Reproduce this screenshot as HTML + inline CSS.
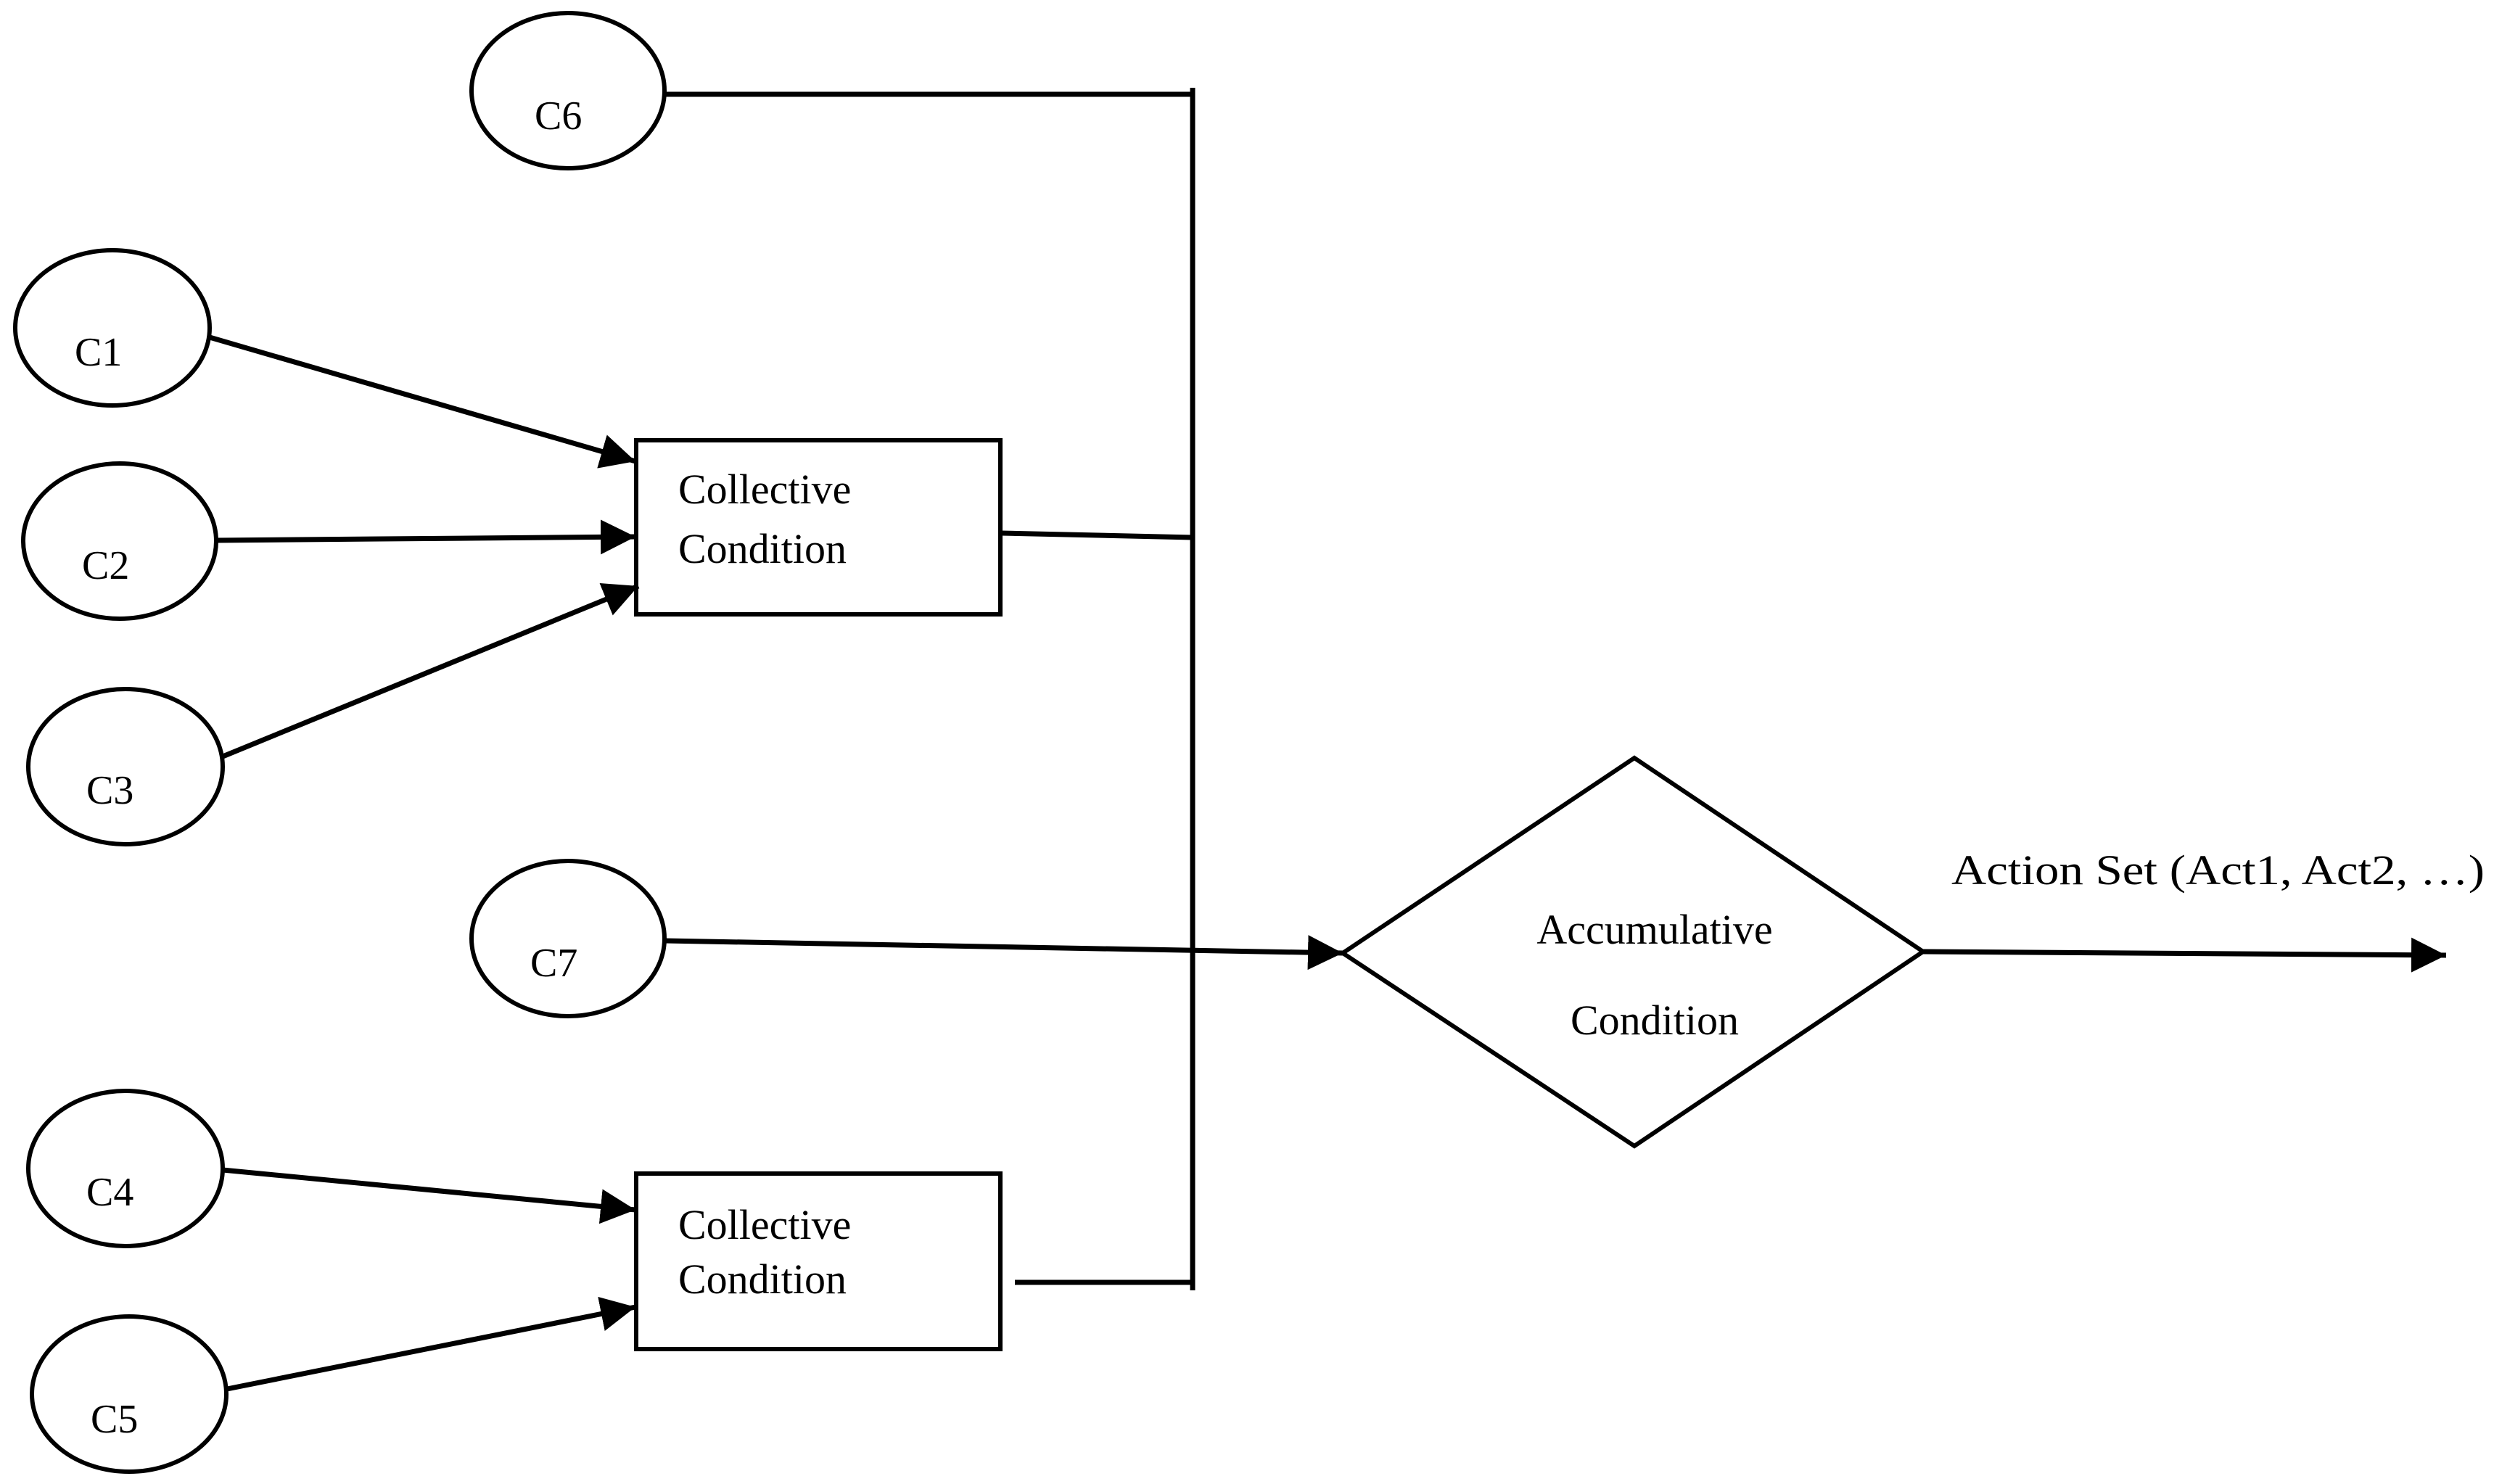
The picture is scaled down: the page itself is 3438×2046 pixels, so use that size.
<!DOCTYPE html>
<html><head><meta charset="utf-8"><style>
html,body{margin:0;padding:0;background:#fff}
svg{display:block}
text{font-family:"Liberation Serif",serif;fill:#000}
</style></head><body>
<svg width="3438" height="2046" viewBox="0 0 3438 2046" xmlns="http://www.w3.org/2000/svg">
<defs>
<marker id="ah" markerUnits="userSpaceOnUse" markerWidth="50" markerHeight="50" refX="48" refY="24" orient="auto">
<polygon points="0,0 48,24 0,48" fill="#000"/>
</marker>
</defs>
<g fill="none" stroke="#000" stroke-width="6">
<ellipse cx="783" cy="125" rx="133" ry="107"/>
<ellipse cx="155" cy="452" rx="134" ry="107"/>
<ellipse cx="165" cy="746" rx="133" ry="107"/>
<ellipse cx="173" cy="1057" rx="134" ry="107"/>
<ellipse cx="783" cy="1294" rx="133" ry="107"/>
<ellipse cx="173" cy="1611" rx="134" ry="107"/>
<ellipse cx="178" cy="1922" rx="134" ry="107"/>
<rect x="877" y="607" width="502" height="240"/>
<rect x="877" y="1618" width="502" height="242"/>
<polygon points="1851,1314 2253,1045 2651,1312 2253,1580"/>
</g>
<g fill="none" stroke="#000" stroke-width="7">
<line x1="1644" y1="121" x2="1644" y2="1779"/>
<line x1="917" y1="130" x2="1644" y2="130"/>
<line x1="1380" y1="735" x2="1644" y2="741"/>
<line x1="1399" y1="1768" x2="1644" y2="1768"/>
<line x1="289" y1="465" x2="876" y2="636" marker-end="url(#ah)"/>
<line x1="298" y1="745" x2="876" y2="740" marker-end="url(#ah)"/>
<line x1="307" y1="1043" x2="880" y2="808" marker-end="url(#ah)"/>
<line x1="307" y1="1613" x2="876" y2="1668" marker-end="url(#ah)"/>
<line x1="313" y1="1915" x2="876" y2="1802" marker-end="url(#ah)"/>
<line x1="917" y1="1297" x2="1851" y2="1314" marker-end="url(#ah)"/>
<line x1="2651" y1="1312" x2="3372" y2="1317" marker-end="url(#ah)"/>
</g>
<g font-size="56">
<text x="737" y="178">C6</text>
<text x="103" y="504">C1</text>
<text x="113" y="798">C2</text>
<text x="119" y="1108">C3</text>
<text x="731" y="1346">C7</text>
<text x="119" y="1662">C4</text>
<text x="125" y="1975">C5</text>
</g>
<g font-size="58">
<text x="935" y="694">Collective</text>
<text x="935" y="776">Condition</text>
<text x="935" y="1708">Collective</text>
<text x="935" y="1783">Condition</text>
<text x="2281" y="1301" text-anchor="middle">Accumulative</text>
<text x="2281" y="1426" text-anchor="middle">Condition</text>
<text x="2690" y="1219" textLength="735" lengthAdjust="spacingAndGlyphs">Action Set (Act1, Act2, …)</text>
</g>
</svg>
</body></html>
